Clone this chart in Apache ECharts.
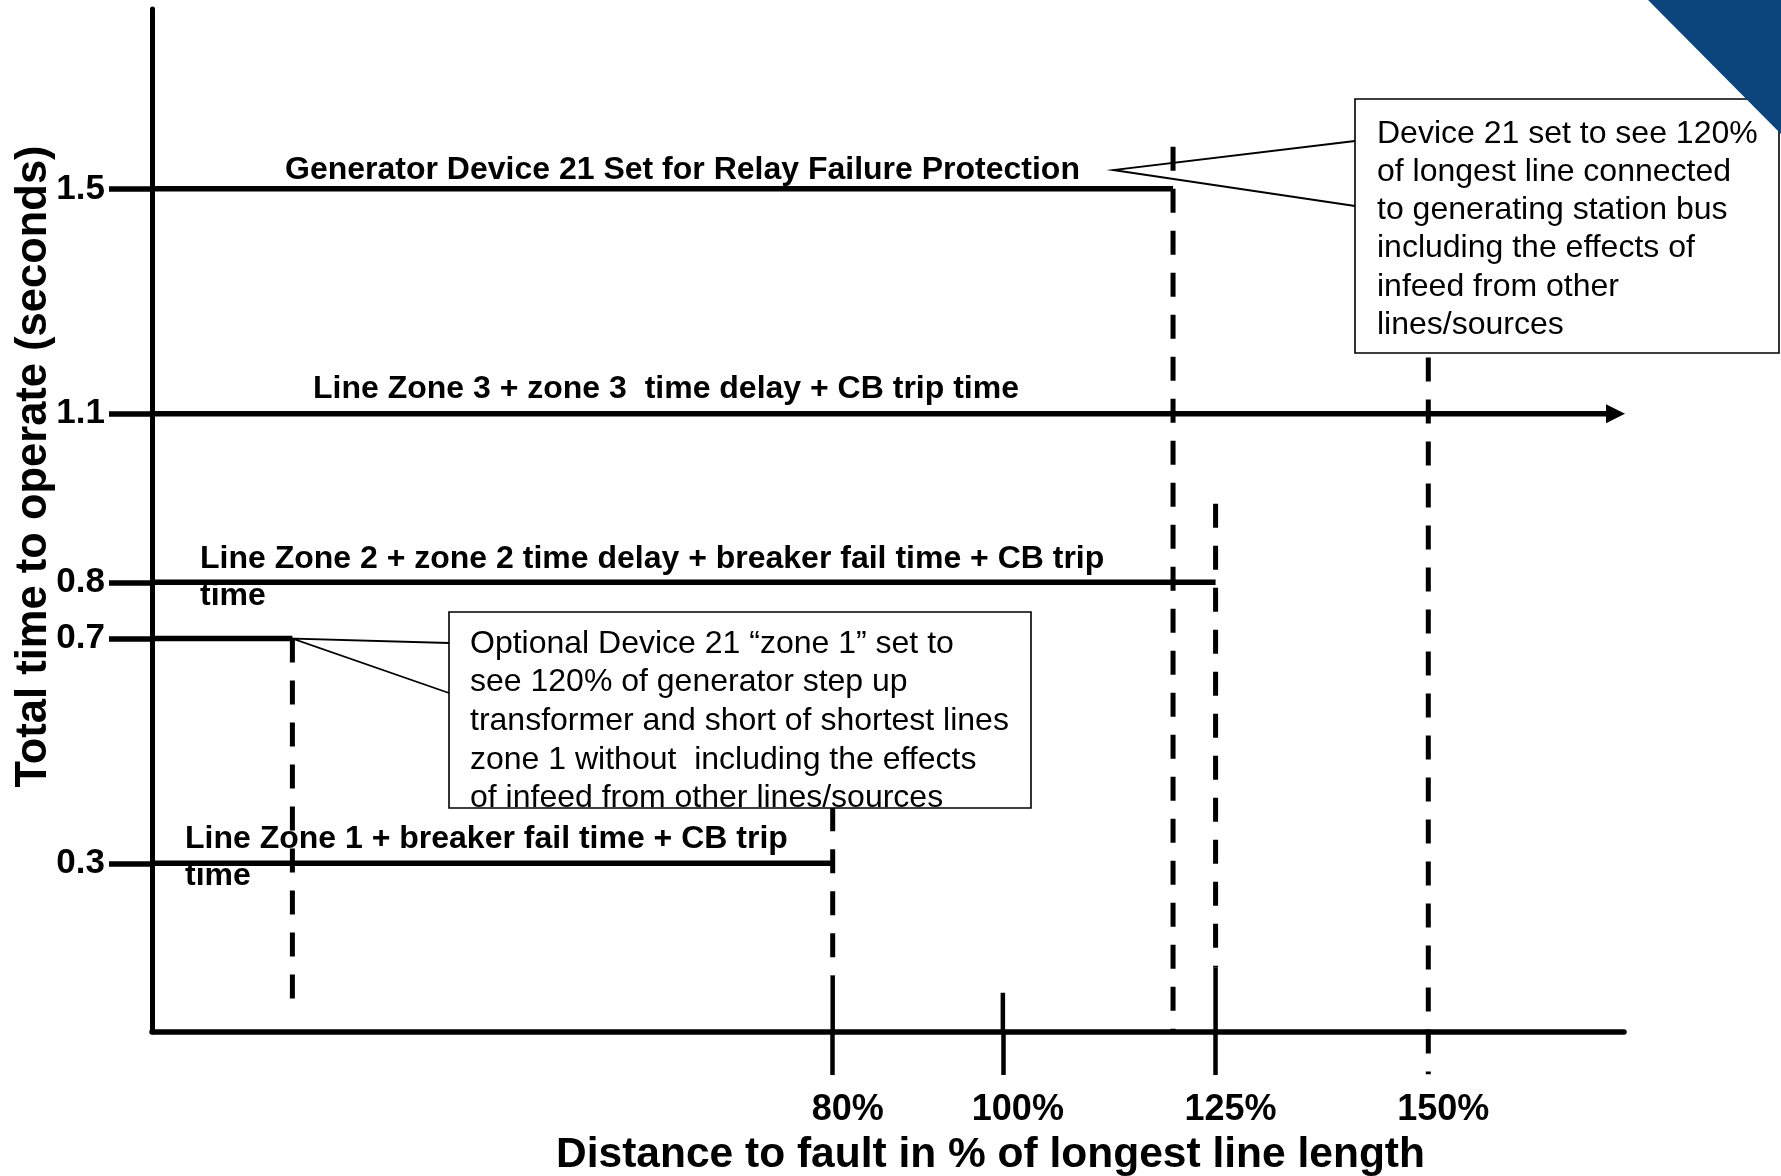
<!DOCTYPE html>
<html>
<head>
<meta charset="utf-8">
<title>Generator Device 21 coordination</title>
<script src="https://cdn.jsdelivr.net/npm/echarts@6/dist/echarts.min.js"></script>
<style>
  html, body { margin: 0; padding: 0; background: #fff; }
  #chart { width: 1781px; height: 1176px; }
</style>
</head>
<body>
<div id="chart"></div>
<script>
// ---- values ----
const X_MAX = 173;   // axis runs on past 150%
const Y_MAX = 1.82;

const xTickValues = [80, 100, 125];
const xLabelValues = [80, 100, 125, 150];
const yLabelValues = [0.3, 0.7, 0.8, 1.1, 1.5];

// horizontal steps: time to operate (s) and reach (% of longest line)
const stepTime = [1.5, 1.1, 0.8, 0.7, 0.3];
const stepReach = [120, 172, 125, 16.5, 80];
const stepText = [
  ['Generator Device 21 Set for Relay Failure Protection'],
  ['Line Zone 3 + zone 3  time delay + CB trip time'],
  ['Line Zone 2 + zone 2 time delay + breaker fail time + CB trip', 'time'],
  [],
  ['Line Zone 1 + breaker fail time + CB trip', 'time'],
];

// dashed reach markers
const reachX = [16.5, 80, 120, 125, 150];
const reachTop = [0.7, 0.4, 1.575, 0.94, 1.2];
const reachBottom = [0.03, 0.1, 0, 0.115, -0.075];

// short solid marks standing on the x axis
const stubX = [80, 100, 125];
const stubTop = [0.1, 0.07, 0.115];

const callout1 = [
  'Device 21 set to see 120%',
  'of longest line connected',
  'to generating station bus',
  'including the effects of',
  'infeed from other',
  'lines/sources',
];
const callout2 = [
  'Optional Device 21 \u201czone 1\u201d set to',
  'see 120% of generator step up',
  'transformer and short of shortest lines',
  'zone 1 without  including the effects',
  'of infeed from other lines/sources',
];

// ---- layout ----
const FONT = '"Liberation Sans", Arial, sans-serif';
const INK = '#000';
// label offsets (px) from the left end of each step
const stepLabelPos = [
  { dx: 133, dy: [-19] },
  { dx: 161, dy: [-25] },
  { dx: 48, dy: [-23, 14] },
  null,
  { dx: 33, dy: [-24, 13] },
];

const series = [];

stepTime.forEach((t, i) => {
  const end = i === 1
    ? { value: [stepReach[i], t], symbol: 'triangle', symbolSize: 19, symbolRotate: -90 }
    : [stepReach[i], t];
  series.push({
    type: 'line',
    data: [[0, t], end],
    symbol: 'none',
    itemStyle: { color: INK },
    lineStyle: { color: INK, width: 5.5 },
    silent: true,
    z: 3,
  });
});

reachX.forEach((x, i) => {
  series.push({
    type: 'line',
    data: [[x, reachTop[i]], [x, reachBottom[i]]],
    symbol: 'none',
    clip: false,
    lineStyle: { color: INK, width: 5, type: [24, 18] },
    silent: true,
  });
});

stubX.forEach((x, i) => {
  series.push({
    type: 'line',
    data: [[x, 0], [x, stubTop[i]]],
    symbol: 'none',
    lineStyle: { color: INK, width: 4.5 },
    silent: true,
  });
});

const chart = echarts.init(document.getElementById('chart'));

chart.setOption({
  animation: false,
  backgroundColor: '#fff',
  grid: { left: 152, right: 157, top: 9, bottom: 144, outerBoundsMode: 'none' },
  xAxis: {
    type: 'value',
    min: 0,
    max: X_MAX,
    name: 'Distance to fault in % of longest line length',
    nameLocation: 'middle',
    nameGap: 102,
    nameMoveOverlap: false,
    nameTextStyle: {
      fontFamily: FONT, fontWeight: 'bold', fontSize: 42.5, color: INK,
      padding: [0, 0, 0, 205],
    },
    axisLine: { lineStyle: { color: INK, width: 5.5 } },
    axisTick: {
      customValues: xTickValues,
      inside: false, length: 43,
      lineStyle: { color: INK, width: 4.5 },
    },
    axisLabel: {
      customValues: xLabelValues,
      formatter: v => v + '%',
      margin: 60,
      padding: [0, 0, 0, 30],
      fontFamily: FONT, fontWeight: 'bold', fontSize: 36, color: INK,
    },
    splitLine: { show: false },
  },
  yAxis: {
    type: 'value',
    min: 0,
    max: Y_MAX,
    name: 'Total time to operate (seconds)',
    nameLocation: 'middle',
    nameGap: 96,
    nameMoveOverlap: false,
    nameTextStyle: {
      fontFamily: FONT, fontWeight: 'bold', fontSize: 43.5, color: INK,
      padding: [0, 0, 0, 108],
    },
    axisLine: { lineStyle: { color: INK, width: 5 } },
    axisTick: {
      customValues: yLabelValues,
      inside: false, length: 43,
      lineStyle: { color: INK, width: 5.5 },
    },
    axisLabel: {
      customValues: yLabelValues,
      margin: 47,
      fontFamily: FONT, fontWeight: 'bold', fontSize: 35, color: INK,
    },
    splitLine: { show: false },
  },
  series,
});

// annotations anchored to the plotted steps
const px = (x, y) => chart.convertToPixel({ gridIndex: 0 }, [x, y]);
const graphic = [];

stepTime.forEach((t, i) => {
  const pos = stepLabelPos[i];
  if (!pos) return;
  const p = px(0, t);
  stepText[i].forEach((line, k) => {
    graphic.push({
      type: 'text', z: 20,
      x: p[0] + pos.dx, y: p[1] + pos.dy[k],
      style: {
        text: line, fill: INK, font: 'bold 32px ' + FONT,
        textAlign: 'left', textVerticalAlign: 'middle',
      },
    });
  });
});

function callout(box, lines, tip, armTop, armBottom, textX, textY0, gap) {
  graphic.push({
    type: 'rect', z: 30,
    shape: { x: box[0], y: box[1], width: box[2], height: box[3] },
    style: { fill: '#fff', stroke: INK, lineWidth: 1.6 },
  });
  graphic.push({
    type: 'polyline', z: 31,
    shape: { points: [[box[0], armTop], tip, [box[0], armBottom]] },
    style: { fill: null, stroke: INK, lineWidth: 1.8 },
  });
  lines.forEach((line, k) => {
    graphic.push({
      type: 'text', z: 32,
      x: textX, y: textY0 + k * gap,
      style: {
        text: line, fill: INK, font: '32px ' + FONT,
        textAlign: 'left', textVerticalAlign: 'middle',
      },
    });
  });
}

callout([1355, 99, 424, 254], callout1, [1113, 170], 141, 206, 1377, 134, 38.2);
callout([449, 612, 582, 196], callout2, px(reachX[0], stepTime[3]), 643, 693, 470, 644, 38.6);

// slide template corner
graphic.push({
  type: 'polygon', z: 40,
  shape: { points: [[1648, 0], [1781, 0], [1781, 134]] },
  style: { fill: '#0b457c' },
});

chart.setOption({ graphic });
window.addEventListener('resize', () => chart.resize());
</script>
</body>
</html>
